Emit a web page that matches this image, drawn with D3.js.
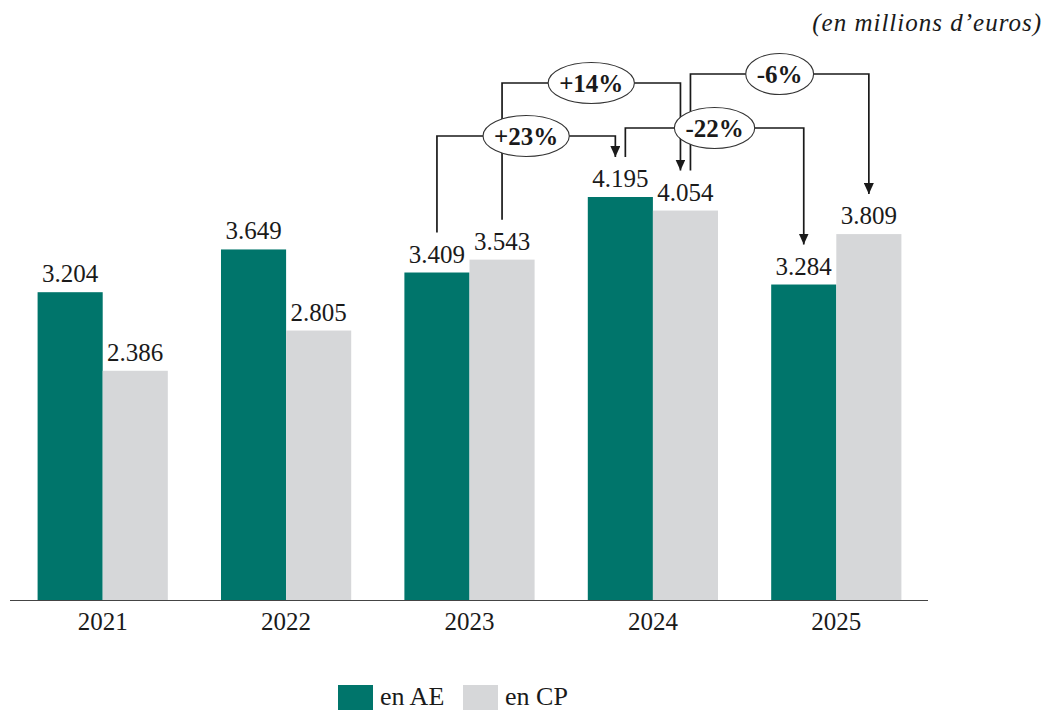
<!DOCTYPE html>
<html>
<head>
<meta charset="utf-8">
<script src="https://cdn.jsdelivr.net/npm/d3@7"></script>
<style>
  html, body { margin: 0; padding: 0; background: #fff; }
  svg { display: block; }
  text { font-family: "Liberation Serif", "DejaVu Serif", serif; fill: #1a1a1a; }
</style>
</head>
<body>
<svg id="chart" width="1049" height="711"></svg>
<script>
// Budget by year, in millions of euros
const years = ["2021", "2022", "2023", "2024", "2025"];
const seriesKeys = ["AE", "CP"];
const seriesLabels = ["en AE", "en CP"];
const valuesAE = [3204, 3649, 3409, 4195, 3284];
const valuesCP = [2386, 2805, 3543, 4054, 3809];
const unitLabel = "(en millions d\u2019euros)";

// Year-on-year changes drawn as bracket connectors
const changeLabels = ["+23%", "+14%", "-22%", "-6%"];
const changeFrom = [["2023", "AE"], ["2023", "CP"], ["2024", "AE"], ["2024", "CP"]];
const changeTo = [["2024", "AE"], ["2024", "CP"], ["2025", "AE"], ["2025", "CP"]];

const colors = { AE: "#00756b", CP: "#d6d7d9" };

const svg = d3.select("#chart");

const x0 = d3.scaleBand().domain(years).range([11, 928]).paddingInner(0.29).paddingOuter(0.145);
const x1 = d3.scaleBand().domain(seriesKeys).range([0, x0.bandwidth()]).padding(0);
const y = d3.scaleLinear().domain([0, 4195]).range([600, 197]);

const valueOf = (yr, key) => (key === "AE" ? valuesAE : valuesCP)[years.indexOf(yr)];
const cx = (yr, key) => x0(yr) + x1(key) + x1.bandwidth() / 2;
const fmt = v => d3.format(",")(v).replace(/,/g, ".");

const rows = years.map((yr, i) => ({ year: yr, AE: valuesAE[i], CP: valuesCP[i] }));

// Bars
const groups = svg.append("g").selectAll("g").data(rows).join("g")
  .attr("transform", d => `translate(${x0(d.year)},0)`);
groups.selectAll("rect").data(d => seriesKeys.map(k => ({ key: k, value: d[k] }))).join("rect")
  .attr("x", d => x1(d.key))
  .attr("y", d => y(d.value))
  .attr("width", x1.bandwidth())
  .attr("height", d => y(0) - y(d.value))
  .attr("fill", d => colors[d.key]);

// Value labels
groups.selectAll("text.val").data(d => seriesKeys.map(k => ({ key: k, value: d[k] }))).join("text")
  .attr("class", "val")
  .attr("x", d => x1(d.key) + x1.bandwidth() / 2)
  .attr("y", d => y(d.value) - 10)
  .attr("text-anchor", "middle")
  .attr("font-size", 25)
  .text(d => fmt(d.value));

// X axis
const xAxis = svg.append("g").attr("transform", `translate(0,${y(0)})`)
  .call(d3.axisBottom(x0).tickSize(0).tickPadding(12));
xAxis.select(".domain").attr("stroke", "#444").attr("stroke-width", 1.2).attr("d", "M10,0.5H928");
xAxis.selectAll(".tick text").attr("font-size", 25).attr("font-family", "Liberation Serif, serif")
  .attr("fill", "#1a1a1a").attr("dy", "0.7em");

// Unit label
svg.append("text")
  .attr("x", 1042).attr("y", 31)
  .attr("text-anchor", "end")
  .attr("font-size", 25)
  .attr("letter-spacing", 1)
  .attr("font-style", "italic")
  .text(unitLabel);

// Change connectors
const gap = 40;          // distance between bar top and connector end
const shift = 5;         // horizontal offset when a bar is both target and source
const levels = [136, 83, 128, 74];
const defs = svg.append("defs");
defs.append("marker").attr("id", "arrow")
  .attr("viewBox", "0 0 10 11").attr("refX", 5).attr("refY", 11)
  .attr("markerWidth", 10).attr("markerHeight", 11)
  .attr("markerUnits", "userSpaceOnUse").attr("orient", "0")
  .append("path").attr("d", "M0,0L10,0L5,11Z").attr("fill", "#1a1a1a");

const isSource = (yr, key) => changeFrom.some(f => f[0] === yr && f[1] === key);
const isTarget = (yr, key) => changeTo.some(f => f[0] === yr && f[1] === key);

const lineLayer = svg.append("g");
const badgeLayer = svg.append("g");
changeLabels.forEach((lab, i) => {
  const [fy, fk] = changeFrom[i];
  const [ty, tk] = changeTo[i];
  const xs = cx(fy, fk) + (isTarget(fy, fk) ? shift : 0);
  const xe = cx(ty, tk) - (isSource(ty, tk) ? shift : 0);
  const ys = y(valueOf(fy, fk)) - gap;
  const ye = y(valueOf(ty, tk)) - gap;
  const lv = levels[i];
  lineLayer.append("path")
    .attr("d", `M${xs},${ys}V${lv}H${xe}V${ye}`)
    .attr("fill", "none").attr("stroke", "#1a1a1a").attr("stroke-width", 1.7)
    .attr("marker-end", "url(#arrow)");
  const mx = (xs + xe) / 2;
  const el = badgeLayer.append("ellipse").attr("cx", mx).attr("cy", lv)
    .attr("fill", "#fff").attr("stroke", "#333").attr("stroke-width", 1.1);
  const t = badgeLayer.append("text").attr("x", mx).attr("y", lv).attr("dy", "0.35em")
    .attr("text-anchor", "middle").attr("font-size", 25).attr("font-weight", "bold")
    .text(lab);
  const w = t.node().getComputedTextLength();
  el.attr("rx", w / 2 + 11).attr("ry", 20.5);
});

// Legend
const legend = svg.append("g").attr("transform", "translate(338,685)");
const items = legend.selectAll("g").data(seriesKeys).join("g")
  .attr("transform", (d, i) => `translate(${i * 125},0)`);
items.append("rect").attr("width", 35).attr("height", 25).attr("fill", d => colors[d]);
items.append("text").attr("x", 42).attr("y", 20).attr("font-size", 26)
  .text((d, i) => seriesLabels[i]);
</script>
</body>
</html>
